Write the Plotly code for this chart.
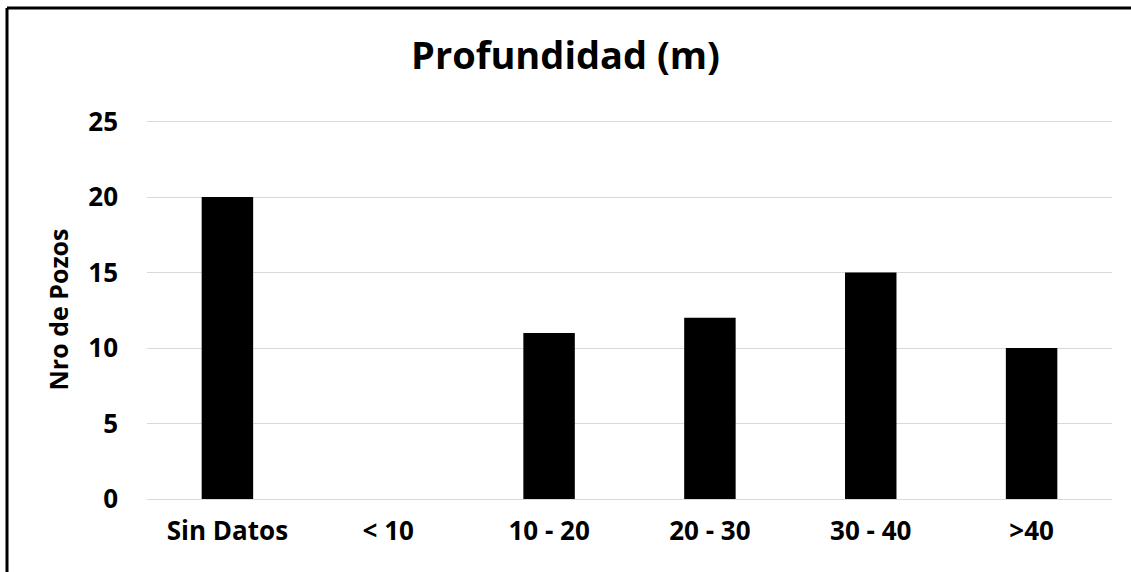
import plotly.graph_objects as go

# Well depth classes and number of wells in each
categories = ["Sin Datos", "< 10", "10 - 20", "20 - 30", "30 - 40", ">40"]
wells = [20, 0, 11, 12, 15, 10]
y_ticks = [0, 5, 10, 15, 20, 25]

W, H = 1131, 572
L, R, T, B = 147, 19, 120, 73
plot_w = W - L - R
plot_h = H - T - B

fig = go.Figure(
    go.Bar(
        x=categories,
        y=wells,
        marker=dict(color="#000000", line=dict(width=0)),
        width=0.32,
    )
)

font_family = "'Open Sans', Lato, sans-serif"

# frame lines along the top and left edges of the canvas
left_px, top_px = 7, 8
x_left = (left_px - L) / plot_w
y_top = 1 + (T - top_px) / plot_h
x_right = 1 + (R + 5) / plot_w
y_bottom = -(B + 5) / plot_h

fig.update_layout(
    width=W,
    height=H,
    margin=dict(l=L, r=R, t=T, b=B),
    paper_bgcolor="white",
    plot_bgcolor="white",
    showlegend=False,
    title=dict(
        text="<b>Profundidad (m)</b>",
        x=0.5,
        xanchor="center",
        y=1 - 56 / H,
        yanchor="middle",
        font=dict(family=font_family, size=38, color="#000000"),
    ),
    xaxis=dict(
        showgrid=False,
        showline=False,
        ticks="",
        tickfont=dict(family=font_family, size=26, color="#000000", weight="bold"),
        ticklabelstandoff=14,
    ),
    yaxis=dict(
        range=[0, 25.1],
        tickvals=y_ticks,
        showgrid=True,
        gridcolor="#d9d9d9",
        gridwidth=1,
        zeroline=True,
        zerolinecolor="#d9d9d9",
        zerolinewidth=1,
        showline=False,
        ticks="",
        ticklabelstandoff=28,
        tickfont=dict(family=font_family, size=26, color="#000000", weight="bold"),
        title=dict(
            text="<b>Nro de Pozos</b>",
            font=dict(family=font_family, size=25, color="#000000"),
            standoff=12,
        ),
    ),
    shapes=[
        dict(type="line", xref="paper", yref="paper",
             x0=x_left, x1=x_right, y0=y_top, y1=y_top,
             line=dict(color="#000000", width=3)),
        dict(type="line", xref="paper", yref="paper",
             x0=x_left, x1=x_left, y0=y_top, y1=y_bottom,
             line=dict(color="#000000", width=3)),
    ],
)

fig.write_html("out.html")
